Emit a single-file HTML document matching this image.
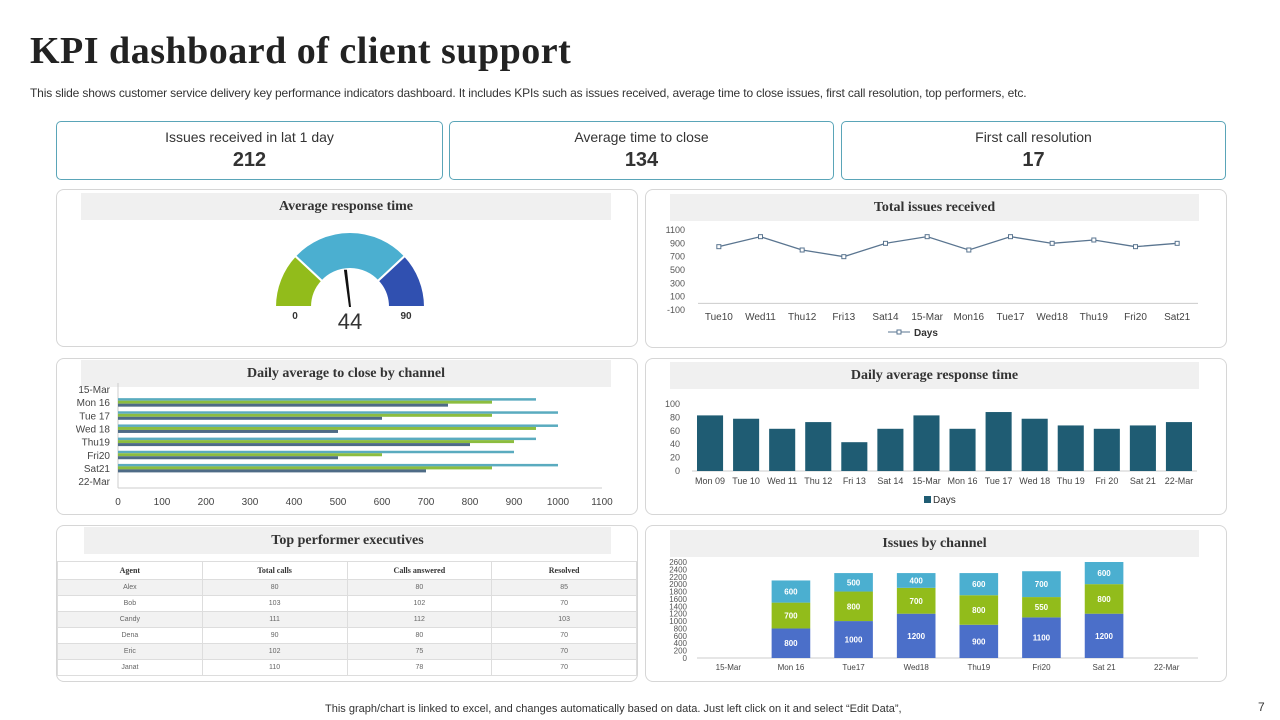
<!DOCTYPE html>
<html><head><meta charset="utf-8"><style>
body{margin:0;width:1280px;height:720px;background:#fff;position:relative;overflow:hidden;font-family:"Liberation Sans",sans-serif}
.abs{position:absolute}
h1{position:absolute;left:30px;top:29px;margin:0;font:bold 38px "Liberation Serif",serif;color:#222;letter-spacing:0.5px}
.sub{left:30px;top:86px;font-size:12px;color:#333;letter-spacing:-0.15px}
.card{position:absolute;border:1px solid #5aa5b8;border-radius:5px;text-align:center;box-sizing:border-box}
.card .t{font-size:14px;color:#333;margin-top:7px}
.card .v{font-size:20px;font-weight:bold;color:#333;margin-top:4px}
.panel{position:absolute;border:1px solid #d6d6d6;border-radius:8px;box-sizing:border-box}
.ptitle{position:absolute;background:#f0f0f0;font:bold 14px "Liberation Serif",serif;color:#333;text-align:center;line-height:27px;height:27px}
table{position:absolute;left:57px;top:561px;width:580px;border-collapse:collapse;font-size:7px;color:#666;table-layout:fixed}
td,th{border:1px solid #ddd;text-align:center;height:15px;padding:0}
th{font:bold 8px "Liberation Serif",serif;color:#333;height:17px}
tr:nth-child(even) td{background:#f2f2f2}
</style></head><body>
<h1>KPI dashboard of client support</h1>
<div class="abs sub">This slide shows customer service delivery key performance indicators dashboard. It includes KPIs such as issues received, average time to close issues, first call resolution, top performers, etc.</div>
<div class="card" style="left:56px;top:121px;width:387px;height:59px"><div class="t">Issues received in lat 1 day</div><div class="v">212</div></div>
<div class="card" style="left:449px;top:121px;width:385px;height:59px"><div class="t">Average time to close</div><div class="v">134</div></div>
<div class="card" style="left:841px;top:121px;width:385px;height:59px"><div class="t">First call resolution</div><div class="v">17</div></div>

<div class="panel" style="left:56px;top:189px;width:582px;height:158px"></div>
<div class="panel" style="left:645px;top:189px;width:582px;height:159px"></div>
<div class="panel" style="left:56px;top:358px;width:582px;height:157px"></div>
<div class="panel" style="left:645px;top:358px;width:582px;height:157px"></div>
<div class="panel" style="left:56px;top:525px;width:582px;height:157px"></div>
<div class="panel" style="left:645px;top:525px;width:582px;height:157px"></div>

<div class="ptitle" style="left:81px;top:193px;width:530px">Average response time</div>
<div class="ptitle" style="left:670px;top:194px;width:529px">Total issues received</div>
<div class="ptitle" style="left:81px;top:360px;width:530px">Daily average to close by channel</div>
<div class="ptitle" style="left:670px;top:362px;width:529px">Daily average response time</div>
<div class="ptitle" style="left:84px;top:527px;width:527px">Top performer executives</div>
<div class="ptitle" style="left:670px;top:530px;width:529px">Issues by channel</div>

<table>
<tr><th>Agent</th><th>Total calls</th><th>Calls answered</th><th>Resolved</th></tr>
<tr><td>Alex</td><td>80</td><td>80</td><td>85</td></tr>
<tr><td>Bob</td><td>103</td><td>102</td><td>70</td></tr>
<tr><td>Candy</td><td>111</td><td>112</td><td>103</td></tr>
<tr><td>Dena</td><td>90</td><td>80</td><td>70</td></tr>
<tr><td>Eric</td><td>102</td><td>75</td><td>70</td></tr>
<tr><td>Janat</td><td>110</td><td>78</td><td>70</td></tr>
</table>

<svg id="s" class="abs" style="left:0;top:0" width="1280" height="720" font-family="Liberation Sans, sans-serif"></svg>
<div class="abs" style="left:325px;top:703px;font-size:11px;color:#333">This graph/chart is linked to excel,  and changes automatically based on data. Just left click on it and select “Edit Data”,</div>
<div class="abs" style="left:1258px;top:700px;font-size:12px;color:#333">7</div>

<script>
// gauge
const gaugeValue = 44, gaugeMin = 0, gaugeMax = 90;
// line chart
const lineCats = ["Tue10","Wed11","Thu12","Fri13","Sat14","15-Mar","Mon16","Tue17","Wed18","Thu19","Fri20","Sat21"];
const lineVals = [850,1000,800,700,900,1000,800,1000,900,950,850,900];
const lineTicks = [-100,100,300,500,700,900,1100];
// horizontal bars
const hCats = ["15-Mar","Mon 16","Tue 17","Wed 18","Thu19","Fri20","Sat21","22-Mar"];
const hSeriesA = [null,950,1000,1000,950,900,1000,null];
const hSeriesB = [null,850,850,950,900,600,850,null];
const hSeriesC = [null,750,600,500,800,500,700,null];
const hTicks = [0,100,200,300,400,500,600,700,800,900,1000,1100];
// column chart
const colCats = ["Mon 09","Tue 10","Wed 11","Thu 12","Fri 13","Sat 14","15-Mar","Mon 16","Tue 17","Wed 18","Thu 19","Fri 20","Sat 21","22-Mar"];
const colVals = [83,78,63,73,43,63,83,63,88,78,68,63,68,73];
const colTicks = [0,20,40,60,80,100];
// stacked
const stCats = ["15-Mar","Mon 16","Tue17","Wed18","Thu19","Fri20","Sat 21","22-Mar"];
const stBottom = [null,800,1000,1200,900,1100,1200,null];
const stMiddle = [null,700,800,700,800,550,800,null];
const stTop = [null,600,500,400,600,700,600,null];
const stTicks = [0,200,400,600,800,1000,1200,1400,1600,1800,2000,2200,2400,2600];

const S=document.getElementById('s');const NS='http://www.w3.org/2000/svg';
function mk(t,a,txt){const e=document.createElementNS(NS,t);for(const k in a)e.setAttribute(k,a[k]);if(txt!==undefined)e.textContent=txt;S.appendChild(e);return e;}

// ---- gauge
(function(){
 const cx=350,cy=307,R=75,r=38;
 const segs=[[180,137,'#92bc1b','gauge-green'],[137,43,'#4bafd0','gauge-blue'],[43,0,'#3050b0','gauge-dark']];
 function p(a,rr){const t=a*Math.PI/180;return [cx+rr*Math.cos(t),cy-rr*Math.sin(t)];}
 segs.forEach(s=>{const a=p(s[0],R),b=p(s[1],R),c=p(s[1],r),d=p(s[0],r);
  const e=mk('path',{d:`M${a}A${R},${R} 0 0 1 ${b}L${c}A${r},${r} 0 0 0 ${d}Z`,fill:s[2],stroke:'#fff','stroke-width':2});
  });
 const ang=180-(gaugeValue-gaugeMin)/(gaugeMax-gaugeMin)*180;
 const tip=p(ang+5,R*0.5);
 const n=mk('path',{d:`M${cx-1},${cy} L${tip[0]-1.5},${tip[1]} L${tip[0]+1.5},${tip[1]} L${cx+1},${cy}Z`,fill:'#111'});
 
 mk('text',{x:cx,y:cy+22,'text-anchor':'middle','font-size':22,fill:'#333'},gaugeValue);
 mk('text',{x:295,y:319,'text-anchor':'middle','font-size':10,fill:'#333','font-weight':'bold'},gaugeMin);
 mk('text',{x:406,y:319,'text-anchor':'middle','font-size':10,fill:'#333','font-weight':'bold'},gaugeMax);
})();

// ---- line chart
(function(){
 const x0=698,x1=1198,yTop=230,yBot=310,vmin=-100,vmax=1100;
 const y=v=>yBot-(v-vmin)/(vmax-vmin)*(yBot-yTop);
 const bw=(x1-x0)/lineCats.length,x=i=>x0+bw*(i+0.5);
 lineTicks.forEach(t=>{const e=mk('text',{x:685,y:y(t)+3,'text-anchor':'end','font-size':9,fill:'#555'},t);});
 mk('line',{x1:x0,x2:x1,y1:y(0),y2:y(0),stroke:'#ccc'});
 lineCats.forEach((c,i)=>{const e=mk('text',{x:x(i),y:320,'text-anchor':'middle','font-size':10,fill:'#444'},c);});
 const l=mk('polyline',{points:lineVals.map((v,i)=>x(i)+','+y(v)).join(' '),fill:'none',stroke:'#5a7590','stroke-width':1.3});
 
 lineVals.forEach((v,i)=>{const e=mk('rect',{x:x(i)-2,y:y(v)-2,width:4,height:4,fill:'#fff',stroke:'#5a7590'});});
 mk('line',{x1:888,x2:910,y1:332,y2:332,stroke:'#5a7590'});mk('rect',{x:897,y:330,width:4,height:4,fill:'#fff',stroke:'#5a7590'});
 mk('text',{x:914,y:336,'font-size':10,'font-weight':'bold',fill:'#333'},'Days');
})();

// ---- horizontal bars
(function(){
 const x0=118,x1=602,vmax=1100,yTop=389,step=13.15;
 const x=v=>x0+v/vmax*(x1-x0);
 hTicks.forEach(t=>{mk('text',{x:x(t),y:505,'text-anchor':'middle','font-size':10,fill:'#444'},t);});
 mk('line',{x1:x0,x2:x0,y1:383,y2:488,stroke:'#ccc'});mk('line',{x1:x0,x2:x1,y1:488,y2:488,stroke:'#ccc'});
 hCats.forEach((c,i)=>{const yc=yTop+i*step;
  mk('text',{x:110,y:yc+4,'text-anchor':'end','font-size':10,fill:'#444'},c);
  [[hSeriesA,'#5aabbf',-4],[hSeriesB,'#8cbd3f',-1.5],[hSeriesC,'#4e6b86',1.5]].forEach(s=>{const v=s[0][i];if(v==null)return;
   const e=mk('rect',{x:x0,y:yc+s[2],width:x(v)-x0,height:s[2]==-4?2.5:3,fill:s[1]});});
 });
})();

// ---- column chart
(function(){
 const x0=692,x1=1197,y0=471,y100=404;
 const y=v=>y0-v/100*(y0-y100);const bw=(x1-x0)/colCats.length,x=i=>x0+bw*i;
 colTicks.forEach(t=>{mk('text',{x:680,y:y(t)+3,'text-anchor':'end','font-size':9,fill:'#555'},t);});
 mk('line',{x1:x0,x2:x1,y1:y0,y2:y0,stroke:'#ccc'});
 colCats.forEach((c,i)=>{
  const e=mk('rect',{x:x(i)+5,y:y(colVals[i]),width:bw-10,height:y0-y(colVals[i]),fill:'#1f5c73'});
  mk('text',{x:x(i)+bw/2,y:484,'text-anchor':'middle','font-size':9,fill:'#444'},c);});
 mk('rect',{x:924,y:496,width:7,height:7,fill:'#1f5c73'});
 mk('text',{x:933,y:503,'font-size':10,fill:'#333'},'Days');
})();

// ---- stacked
(function(){
 const x0=697,x1=1198,y0=658,yT=562,vmax=2600;
 const h=v=>v/vmax*(y0-yT);const bw=(x1-x0)/stCats.length,x=i=>x0+bw*i;
 stTicks.forEach(t=>{mk('text',{x:687,y:y0-h(t)+3,'text-anchor':'end','font-size':8,fill:'#555'},t);});
 mk('line',{x1:x0,x2:x1,y1:y0,y2:y0,stroke:'#ccc'});
 stCats.forEach((c,i)=>{
  mk('text',{x:x(i)+bw/2,y:670,'text-anchor':'middle','font-size':8,fill:'#444'},c);
  let base=0;
  [[stBottom,'#4b6fc9'],[stMiddle,'#92bc1b'],[stTop,'#4bafd0']].forEach(s=>{const v=s[0][i];if(v==null)return;
   const yy=y0-h(base+v);const e=mk('rect',{x:x(i)+12,y:yy,width:bw-24,height:h(v),fill:s[1]});
   
   mk('text',{x:x(i)+bw/2,y:yy+h(v)/2+3,'text-anchor':'middle','font-size':8,'font-weight':'bold',fill:'#fff'},v);
   base+=v;});
 });
})();
</script>
</body></html>
